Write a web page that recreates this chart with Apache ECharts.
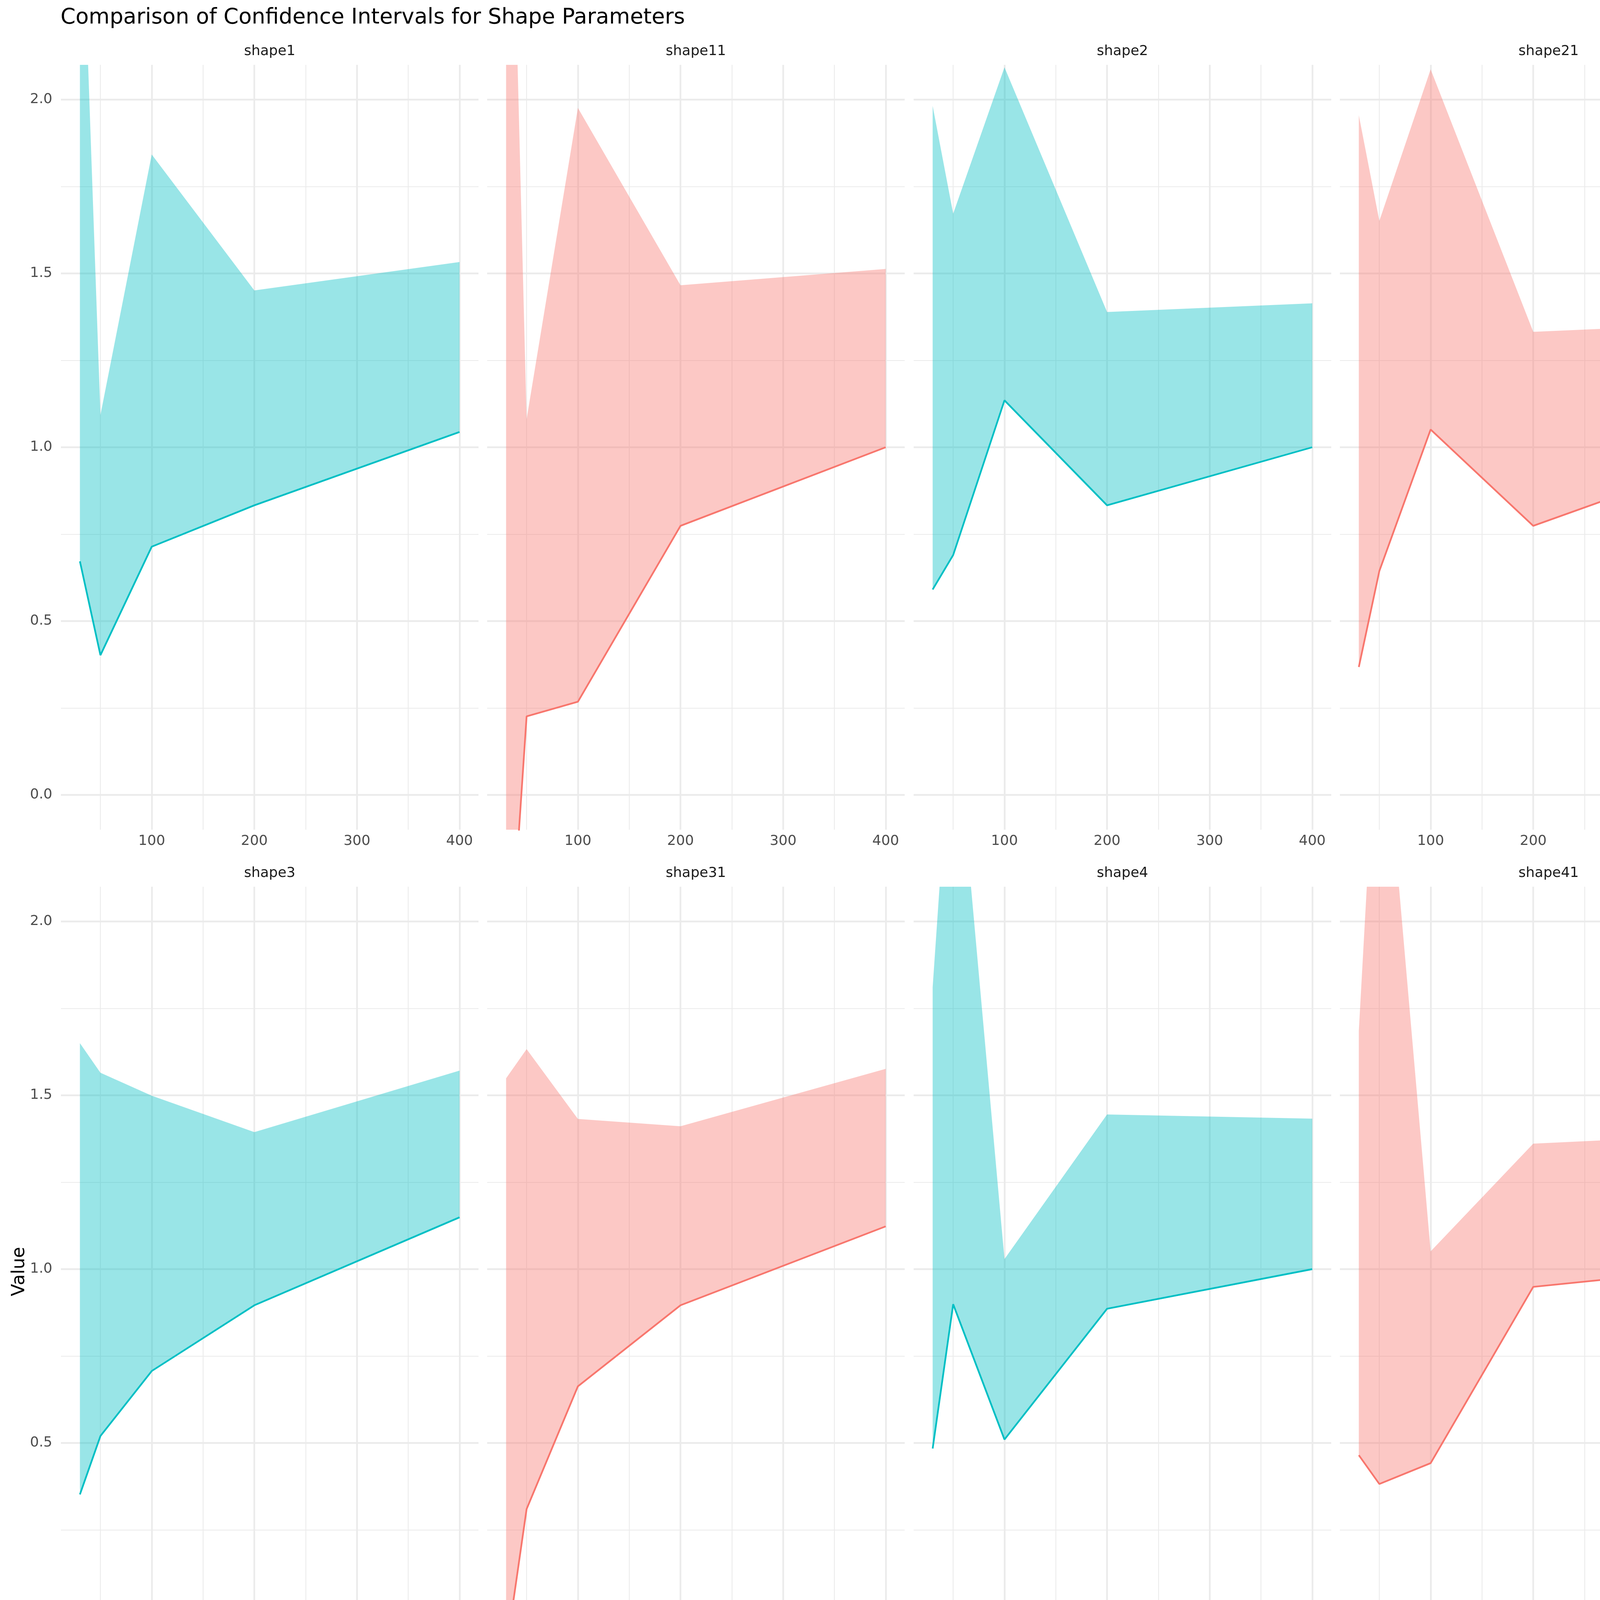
<!DOCTYPE html>
<html>
<head>
<meta charset="utf-8">
<title>Comparison of Confidence Intervals for Shape Parameters</title>
<script src="https://cdn.jsdelivr.net/npm/echarts@6.0.0/dist/echarts.min.js"></script>
<style>
    html, body { margin: 0; padding: 0; background: #ffffff; }
    #facet-chart { width: 4795px; height: 6466px; }
</style>
</head>
<body>
<div id="facet-chart"></div>
<script>
// sample sizes shared by every panel
var sampleSizes = [30, 50, 100, 200, 400];
var panelNames = ['shape1', 'shape11', 'shape2', 'shape21', 'shape3', 'shape31', 'shape4', 'shape41', 'shape5', 'shape51'];
var panelTypes = ['fim', 'boot', 'fim', 'boot', 'fim', 'boot', 'fim', 'boot', 'fim', 'boot'];
var ciTypes = ['boot', 'fim'];

var xTicks = [100, 200, 300, 400];
var xMinorTicks = [50, 150, 250, 350];
var yTicks = [0, 0.5, 1, 1.5, 2];
var yMinorTicks = [0.25, 0.75, 1.25, 1.75];

// lower / upper bounds
var shape1Lower = [0.672, 0.402, 0.714, 0.833, 1.044];
var shape1Upper = [2.77, 1.093, 1.842, 1.451, 1.533];
var shape11Lower = [-0.655, 0.226, 0.268, 0.774, 1.000];
var shape11Upper = [3.40, 1.081, 1.976, 1.466, 1.513];
var shape2Lower = [0.591, 0.690, 1.135, 0.833, 1.000];
var shape2Upper = [1.982, 1.672, 2.093, 1.389, 1.414];
var shape21Lower = [0.368, 0.644, 1.051, 0.774, 0.985];
var shape21Upper = [1.955, 1.651, 2.087, 1.332, 1.358];
var shape3Lower = [0.352, 0.520, 0.707, 0.896, 1.149];
var shape3Upper = [1.650, 1.565, 1.499, 1.394, 1.571];
var shape31Lower = [-0.10, 0.310, 0.663, 0.896, 1.123];
var shape31Upper = [1.549, 1.633, 1.432, 1.411, 1.576];
var shape4Lower = [0.484, 0.899, 0.510, 0.886, 1.000];
var shape4Upper = [1.811, 2.67, 1.029, 1.445, 1.433];
var shape41Lower = [0.465, 0.382, 0.442, 0.949, 1.009];
var shape41Upper = [1.686, 2.75, 1.051, 1.361, 1.389];
var shape5Lower = [0.400, 1.218, 0.954, 0.962, 1.181];
var shape5Upper = [2.60, 2.754, 1.766, 1.617, 1.688];
var shape51Lower = [0.436, 1.012, 0.891, 0.959, 1.159];
var shape51Upper = [2.08, 2.94, 1.744, 1.609, 1.648];

var lowerBounds = [shape1Lower, shape11Lower, shape2Lower, shape21Lower, shape3Lower,
                   shape31Lower, shape4Lower, shape41Lower, shape5Lower, shape51Lower];
var upperBounds = [shape1Upper, shape11Upper, shape2Upper, shape21Upper, shape3Upper,
                   shape31Upper, shape4Upper, shape41Upper, shape5Upper, shape51Upper];

var lineColors = { boot: '#F8766D', fim: '#00BFC4' };
var fillColors = { boot: 'rgba(248, 118, 109, 0.4)', fim: 'rgba(0, 191, 196, 0.4)' };

var font = 'DejaVu Sans',
    colLeft = [156, 1247, 2339, 3430],
    rowTop = [166, 2270, 4377],
    panelW = 1069,
    panelH = 1958,
    gridColor = '#EBEBEB';

var grids = [], xAxes = [], yAxes = [], series = [], graphics = [];

// one polygon per panel: lower edge left to right, upper edge back
function ribbonRenderer(fill) {
    return function(params, api) {
        if (params.dataIndexInside !== 0) {
            return null;
        }
        var lowerPts = [], upperPts = [];
        for (var k = 0; k < params.dataInsideLength; k++) {
            lowerPts.push(api.coord([api.value(0, k), api.value(1, k)]));
            upperPts.push(api.coord([api.value(0, k), api.value(2, k)]));
        }
        return {
            type: 'polygon',
            silent: true,
            shape: { points: lowerPts.concat(upperPts.reverse()) },
            style: { fill: fill }
        };
    };
}

graphics.push({
    type: 'text', x: 155, y: 46,
    style: { text: 'Comparison of Confidence Intervals for Shape Parameters', fontSize: 55, fontFamily: font,
             fill: '#000000', align: 'left', verticalAlign: 'middle' }
});

panelNames.forEach(function(name, i) {
    var col = i % 4,
        row = Math.floor(i / 4),
        type = panelTypes[i],
        lower = lowerBounds[i],
        upper = upperBounds[i];

    grids.push({ left: colLeft[col], top: rowTop[row], width: panelW, height: panelH, containLabel: false });

    // major axis: labels + major grid lines
    xAxes.push({
        type: 'value', gridIndex: i, min: 11.5, max: 418.5, position: 'bottom',
        axisLine: { show: false },
        axisTick: { show: false, customValues: xTicks },
        axisLabel: { customValues: xTicks, fontSize: 36, fontFamily: font, color: '#4D4D4D', margin: 12 },
        splitLine: { show: true, lineStyle: { color: gridColor, width: 4.4 } }
    });
    // minor axis: only the thin grid lines
    xAxes.push({
        type: 'value', gridIndex: i, min: 11.5, max: 418.5, position: 'top',
        axisLine: { show: false },
        axisTick: { show: false, customValues: xMinorTicks },
        axisLabel: { show: false, customValues: xMinorTicks },
        splitLine: { show: true, lineStyle: { color: gridColor, width: 2.2 } }
    });
    yAxes.push({
        type: 'value', gridIndex: i, min: -0.1, max: 2.1, position: 'left',
        axisLine: { show: false },
        axisTick: { show: false, customValues: yTicks },
        axisLabel: {
            show: col === 0, customValues: yTicks, fontSize: 36, fontFamily: font, color: '#4D4D4D', margin: 22,
            formatter: function(v) { return v.toFixed(1); }
        },
        splitLine: { show: true, lineStyle: { color: gridColor, width: 4.4 } }
    });
    yAxes.push({
        type: 'value', gridIndex: i, min: -0.1, max: 2.1, position: 'right',
        axisLine: { show: false },
        axisTick: { show: false, customValues: yMinorTicks },
        axisLabel: { show: false, customValues: yMinorTicks },
        splitLine: { show: true, lineStyle: { color: gridColor, width: 2.2 } }
    });

    series.push({
        type: 'custom', name: type + ' interval', xAxisIndex: 2 * i, yAxisIndex: 2 * i,
        data: sampleSizes.map(function(n, k) { return [n, lower[k], upper[k]]; }),
        encode: { x: 0, y: [1, 2] },
        renderItem: ribbonRenderer(fillColors[type]),
        clip: true, z: 2
    });
    series.push({
        type: 'line', name: type, xAxisIndex: 2 * i, yAxisIndex: 2 * i,
        data: sampleSizes.map(function(n, k) { return [n, lower[k]]; }),
        symbol: 'none', showSymbol: false, clip: true, z: 3,
        itemStyle: { color: lineColors[type] },
        lineStyle: { color: lineColors[type], width: 4.4 }
    });

    graphics.push({
        type: 'text', x: colLeft[col] + panelW / 2, y: rowTop[row] - 34,
        style: { text: name, fontSize: 36, fontFamily: font, fill: '#1A1A1A', align: 'center', verticalAlign: 'middle' }
    });
});

graphics.push({
    type: 'text', x: 2333, y: 6425,
    style: { text: 'Sample Size', fontSize: 46, fontFamily: font, fill: '#000000', align: 'center', verticalAlign: 'middle' }
});
graphics.push({
    type: 'text', x: 50, y: 3255, rotation: Math.PI / 2,
    style: { text: 'Value', fontSize: 46, fontFamily: font, fill: '#000000', align: 'center', verticalAlign: 'middle' }
});
graphics.push({
    type: 'text', x: 4573, y: 3169,
    style: { text: 'CI Type', fontSize: 46, fontFamily: font, fill: '#000000', align: 'left', verticalAlign: 'middle' }
});

var chart = echarts.init(document.getElementById('facet-chart'));
chart.setOption({
    animation: false,
    backgroundColor: '#ffffff',
    grid: grids,
    xAxis: xAxes,
    yAxis: yAxes,
    legend: {
        data: ciTypes,
        orient: 'vertical',
        left: 4579,
        top: 3229,
        icon: 'rect',
        itemWidth: 58,
        itemHeight: 4,
        itemGap: 36,
        selectedMode: false,
        textStyle: { fontSize: 36, fontFamily: font, color: '#000000', padding: [0, 0, 0, 26] }
    },
    graphic: graphics,
    series: series
});
</script>
</body>
</html>
